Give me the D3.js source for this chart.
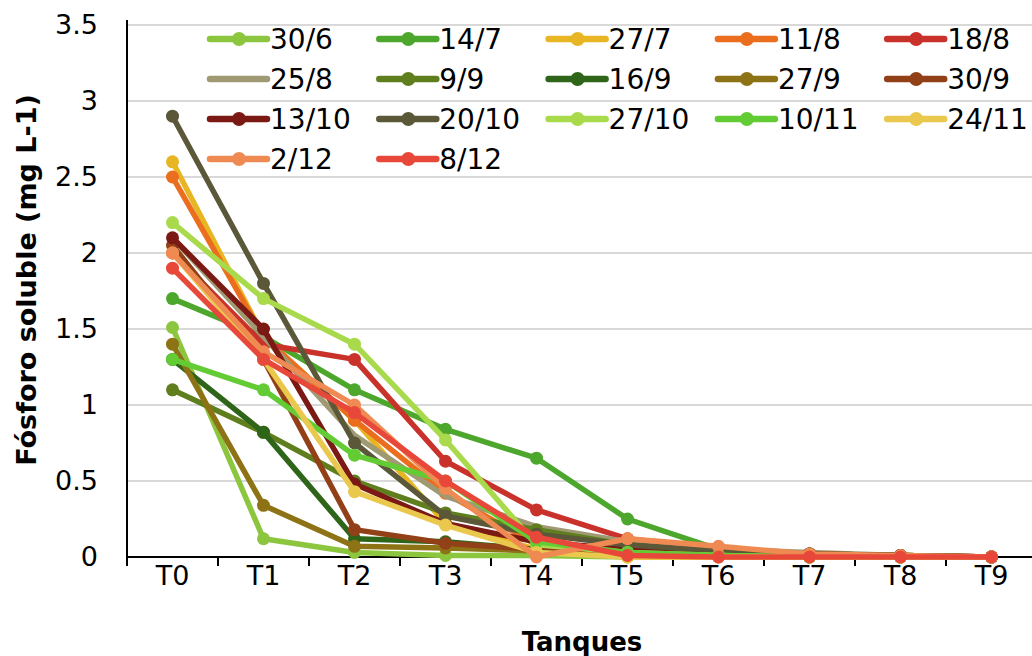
<!DOCTYPE html>
<html>
<head>
<meta charset="utf-8">
<script src="https://cdn.jsdelivr.net/npm/d3@7"></script>
<style>
body { margin: 0; background: #fff; }
text { font-family: "DejaVu Sans", Verdana, sans-serif; }
</style>
</head>
<body>
<svg id="chart" width="1032" height="656"></svg>
<script>
// categories and tick labels
var tanques = ["T0", "T1", "T2", "T3", "T4", "T5", "T6", "T7", "T8", "T9"];
var yTicks = [0, 0.5, 1, 1.5, 2, 2.5, 3, 3.5];

// series names, colours, values (mg L-1) per tank
var fechas = ["30/6", "14/7", "27/7", "11/8", "18/8",
              "25/8", "9/9", "16/9", "27/9", "30/9",
              "13/10", "20/10", "27/10", "10/11", "24/11",
              "2/12", "8/12"];
var colores = ["#8cc63e", "#4ca72c", "#e7b622", "#ea6e1e", "#c9322a",
               "#a09a74", "#5f7f1f", "#2e6519", "#8e7316", "#924017",
               "#7b1a14", "#5a5838", "#a8da4c", "#63cc35", "#eac84e",
               "#ef8a52", "#e8483a"];
var conMarcador = [true, true, true, true, true,
                   false, true, true, true, true,
                   true, true, true, true, true,
                   true, true];

var v30_6  = [1.51, 0.12, 0.03, 0.01, 0.01, 0.00, 0.00, 0.00, 0.00, 0.00];
var v14_7  = [1.70, 1.45, 1.10, 0.84, 0.65, 0.25, 0.05, 0.02, 0.01, 0.00];
var v27_7  = [2.60, 1.45, 0.90, 0.22, 0.05, 0.00, 0.00, 0.00, 0.00, 0.00];
var v11_8  = [2.50, 1.45, 0.90, 0.42, 0.08, 0.05, 0.03, 0.02, 0.01, 0.00];
var v18_8  = [2.00, 1.40, 1.30, 0.63, 0.31, 0.12, 0.05, 0.02, 0.01, 0.00];
var v25_8  = [2.10, 1.45, 0.80, 0.40, 0.20, 0.10, 0.05, 0.03, 0.01, 0.00];
var v9_9   = [1.10, 0.82, 0.50, 0.29, 0.18, 0.08, 0.03, 0.02, 0.01, 0.00];
var v16_9  = [1.30, 0.82, 0.12, 0.10, 0.05, 0.02, 0.01, 0.00, 0.00, 0.00];
var v27_9  = [1.40, 0.34, 0.07, 0.06, 0.04, 0.02, 0.01, 0.00, 0.00, 0.00];
var v30_9  = [2.05, 1.30, 0.18, 0.09, 0.05, 0.03, 0.02, 0.01, 0.00, 0.00];
var v13_10 = [2.10, 1.50, 0.48, 0.22, 0.10, 0.05, 0.03, 0.02, 0.01, 0.00];
var v20_10 = [2.90, 1.80, 0.75, 0.27, 0.15, 0.08, 0.04, 0.02, 0.01, 0.00];
var v27_10 = [2.20, 1.70, 1.40, 0.77, 0.08, 0.03, 0.01, 0.00, 0.00, 0.00];
var v10_11 = [1.30, 1.10, 0.67, 0.50, 0.10, 0.03, 0.01, 0.00, 0.00, 0.00];
var v24_11 = [2.00, 1.30, 0.43, 0.21, 0.03, 0.00, 0.00, 0.00, 0.00, 0.00];
var v2_12  = [2.00, 1.35, 1.00, 0.45, 0.00, 0.12, 0.07, 0.02, 0.01, 0.00];
var v8_12  = [1.90, 1.30, 0.95, 0.50, 0.13, 0.01, 0.00, 0.00, 0.00, 0.00];

var valores = [v30_6, v14_7, v27_7, v11_8, v18_8, v25_8, v9_9, v16_9, v27_9,
               v30_9, v13_10, v20_10, v27_10, v10_11, v24_11, v2_12, v8_12];

var series = fechas.map(function (f, i) {
    return { name: f, color: colores[i], marker: conMarcador[i], values: valores[i] };
});

var svg = d3.select("#chart");
// plot box (window.top is reserved, so no "top" here)
var pLeft = 127, pRight = 1037, pTop = 25, pBottom = 557;

var x = d3.scaleBand().domain(tanques).range([pLeft, pRight]);
var y = d3.scaleLinear().domain([0, 3.5]).range([pBottom, pTop]);

// gridlines
svg.append("g").selectAll("line")
    .data(yTicks.filter(function (d) { return d > 0; }))
    .enter().append("line")
    .attr("x1", pLeft).attr("x2", 1032)
    .attr("y1", function (d) { return y(d); })
    .attr("y2", function (d) { return y(d); })
    .attr("stroke", "#d9d9d9").attr("stroke-width", 2);

// y axis
var yAxis = svg.append("g")
    .attr("transform", "translate(" + pLeft + ",0)")
    .call(d3.axisLeft(y).tickValues(yTicks).tickSize(0).tickPadding(29)
        .tickFormat(function (d) { return String(d); }));
yAxis.select(".domain").remove();
yAxis.selectAll("text").attr("font-size", 27).attr("fill", "#000")
    .style("font-family", "DejaVu Sans, sans-serif");

// x axis, ticks between categories
var xAxis = svg.append("g")
    .attr("transform", "translate(0," + pBottom + ")")
    .call(d3.axisBottom(x).tickSize(0).tickPadding(9));
xAxis.select(".domain").remove();
xAxis.selectAll("text").attr("font-size", 27).attr("fill", "#000")
    .style("font-family", "DejaVu Sans, sans-serif");

var bordes = tanques.map(function (t) { return x(t); }).concat([pRight]);
svg.append("g").selectAll("line")
    .data(bordes)
    .enter().append("line")
    .attr("x1", function (d) { return d; }).attr("x2", function (d) { return d; })
    .attr("y1", pBottom).attr("y2", pBottom + 9)
    .attr("stroke", "#000").attr("stroke-width", 2);

svg.append("line")
    .attr("x1", pLeft).attr("x2", 1032).attr("y1", pBottom).attr("y2", pBottom)
    .attr("stroke", "#000").attr("stroke-width", 2);
svg.append("line")
    .attr("x1", pLeft).attr("x2", pLeft).attr("y1", pTop - 5).attr("y2", pBottom + 9)
    .attr("stroke", "#000").attr("stroke-width", 2);

// axis titles
svg.append("text")
    .attr("transform", "translate(36,280) rotate(-90)")
    .attr("text-anchor", "middle")
    .attr("font-size", 27).attr("font-weight", "bold")
    .text("Fósforo soluble (mg L-1)");

svg.append("text")
    .attr("x", 582).attr("y", 651)
    .attr("text-anchor", "middle")
    .attr("font-size", 26).attr("font-weight", "bold")
    .text("Tanques");

// lines + markers
var cx = function (d, i) { return x(tanques[i]) + x.bandwidth() / 2; };
var line = d3.line()
    .x(cx)
    .y(function (d) { return y(d); });

var g = svg.append("g");
series.forEach(function (s) {
    var sg = g.append("g");
    sg.append("path")
        .attr("d", line(s.values))
        .attr("fill", "none")
        .attr("stroke", s.color)
        .attr("stroke-width", 5.5)
        .attr("stroke-linejoin", "round");
    if (s.marker) {
        sg.selectAll("circle")
            .data(s.values)
            .enter().append("circle")
            .attr("cx", cx)
            .attr("cy", function (d) { return y(d); })
            .attr("r", 6.5)
            .attr("fill", s.color);
    }
});

// legend, 5 columns
var leg = svg.append("g");
var item = leg.selectAll("g")
    .data(series)
    .enter().append("g")
    .attr("transform", function (d, i) {
        return "translate(" + (210 + (i % 5) * 169.3) + "," + (39 + Math.floor(i / 5) * 40) + ")";
    });
item.append("line")
    .attr("x1", 0).attr("x2", 57).attr("y1", 0).attr("y2", 0)
    .attr("stroke", function (d) { return d.color; })
    .attr("stroke-width", 6.5).attr("stroke-linecap", "round");
item.filter(function (d) { return d.marker; })
    .append("circle")
    .attr("cx", 29).attr("cy", 0).attr("r", 7)
    .attr("fill", function (d) { return d.color; });
item.append("text")
    .attr("x", 60).attr("y", 10)
    .attr("font-size", 28)
    .text(function (d) { return d.name; });
</script>
</body>
</html>
